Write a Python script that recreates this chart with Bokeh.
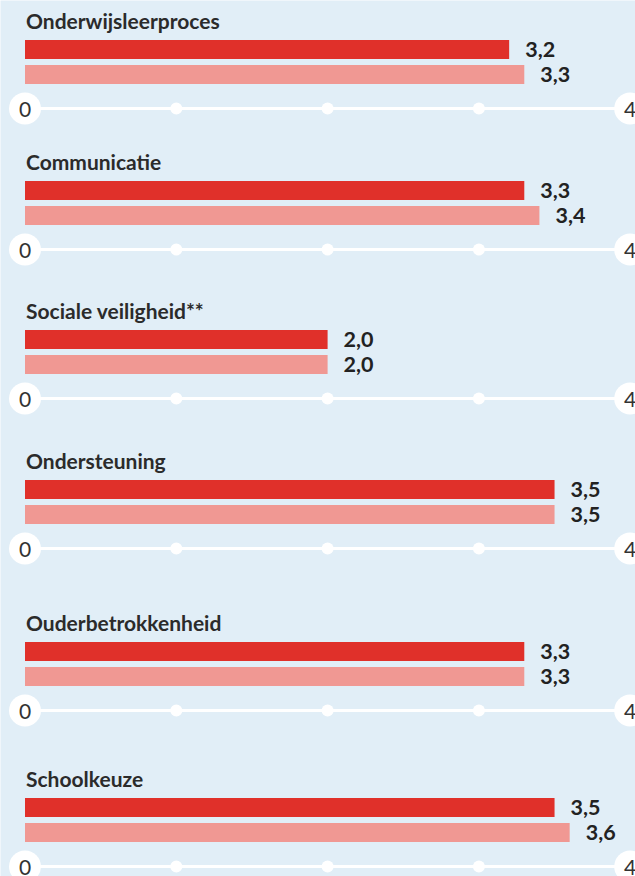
from bokeh.plotting import figure
from bokeh.models import Range1d, ColumnDataSource
from bokeh.core.properties import value
from bokeh.embed import file_html
from bokeh.resources import INLINE

# ---- data ----
categories = ["Onderwijsleerproces", "Communicatie", "Sociale veiligheid**",
              "Ondersteuning", "Ouderbetrokkenheid", "Schoolkeuze"]
series_a = [3.2, 3.3, 2.0, 3.5, 3.3, 3.5]   # dark red bars
series_b = [3.3, 3.4, 2.0, 3.5, 3.3, 3.6]   # light red bars
tick_values = [0, 1, 2, 3, 4]
end_labels = ["0", "4"]

# ---- layout (pixel rows of each panel's axis line) ----
panel_axis_y = [108, 249, 398, 548, 710, 866]
W, H = 635, 876
x0_px, unit_px = 24.5, 151.3

BG = "#e1eef7"
RED = "#e0302a"
PINK = "#f09893"

p = figure(width=W, height=H, output_backend="svg", toolbar_location=None,
           x_range=Range1d(-x0_px / unit_px, (W - x0_px) / unit_px),
           y_range=Range1d(H, 0), min_border=0,
           background_fill_color=BG, border_fill_color=BG)
p.axis.visible = False
p.grid.visible = False
p.outline_line_color = None

def fmt(v):
    return f"{v:.1f}".replace(".", ",")

ya = [y - 59 for y in panel_axis_y]
yb = [y - 34 for y in panel_axis_y]
yt = [y - 88 for y in panel_axis_y]

src_a = ColumnDataSource(dict(y=ya, v=series_a, lab=[fmt(v) for v in series_a]))
src_b = ColumnDataSource(dict(y=yb, v=series_b, lab=[fmt(v) for v in series_b]))

p.hbar(y="y", left=0, right="v", height=19, source=src_a, fill_color=RED, line_color=None)
p.hbar(y="y", left=0, right="v", height=19, source=src_b, fill_color=PINK, line_color=None)

p.text(x="v", y="y", text="lab", source=src_a, x_offset=16, text_baseline="middle",
       text_font=value("Lato"), text_font_style="bold", text_font_size="21.5px", text_color="#222222")
p.text(x="v", y="y", text="lab", source=src_b, x_offset=16, text_baseline="middle",
       text_font=value("Lato"), text_font_style="bold", text_font_size="21.5px", text_color="#222222")

p.text(x=[0] * len(categories), y=yt, text=categories, text_baseline="middle", x_offset=1,
       text_font=value("Lato"), text_font_style="bold", text_font_size="21px", text_color="#2b2b2b")

# axis lines, dots and end circles
for ay in panel_axis_y:
    p.line(x=[tick_values[0], tick_values[-1]], y=[ay, ay], line_color="white", line_width=3)
    mids = tick_values[1:-1]
    p.scatter(x=mids, y=[ay] * len(mids), size=12, marker="circle",
              fill_color="white", line_color=None)
    ends = [tick_values[0], tick_values[-1]]
    p.scatter(x=ends, y=[ay, ay], size=32, marker="circle",
              fill_color="white", line_color=None)
    p.text(x=ends, y=[ay + 1, ay + 1], text=end_labels, text_align="center",
           text_baseline="middle", text_font=value("Lato"), text_font_size="21px",
           text_color="#333333")

open("out.html", "w").write(file_html(p, INLINE))
